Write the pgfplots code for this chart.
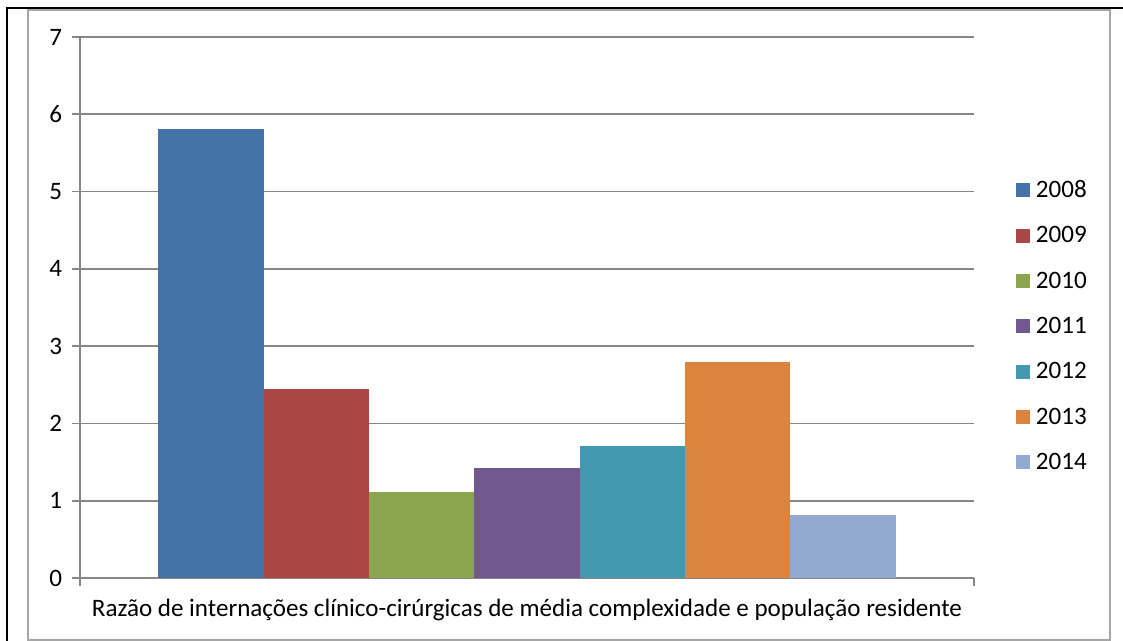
\documentclass[border=0pt]{standalone}
\usepackage{pgfplots}
\pgfplotsset{compat=1.18}
\usepackage{fontspec}
\setmainfont{Carlito}

\definecolor{c2008}{HTML}{4572A7}
\definecolor{c2009}{HTML}{AA4643}
\definecolor{c2010}{HTML}{89A54E}
\definecolor{c2011}{HTML}{71588F}
\definecolor{c2012}{HTML}{4198AF}
\definecolor{c2013}{HTML}{DB843D}
\definecolor{c2014}{HTML}{93A9CF}
\definecolor{gridgray}{HTML}{868686}
\definecolor{framegray}{HTML}{A6A6A6}

\begin{document}
\begin{tikzpicture}
% page size and frames (1px = 0.75pt)
\path[use as bounding box] (0pt,0pt) rectangle (842.25pt,480.75pt);
\draw[framegray, line width=1.5pt] (21pt,0.75pt) rectangle (832.5pt,473.25pt);
\draw[black, line width=1.5pt] (5.25pt,0pt) -- (5.25pt,474.75pt) -- (842.25pt,474.75pt);

\begin{axis}[
  at={(60pt,47.25pt)}, anchor=south west,
  scale only axis,
  width=670.5pt, height=405.75pt,
  ybar=0pt, bar width=79pt,
  xmin=-0.5, xmax=0.5,
  ymin=0, ymax=7,
  ytick={0,1,2,3,4,5,6,7},
  xtick={-0.5,0.5}, xticklabels={},
  axis lines*=left,
  axis line style={gridgray, line width=1.2pt},
  ymajorgrids=true,
  grid style={gridgray, line width=1.2pt},
  tick style={gridgray, line width=1.2pt},
  tick align=outside,
  major tick length=6pt,
  /pgf/number format/assume math mode=true,
  ticklabel style={font=\fontsize{18.8pt}{22pt}\selectfont},
  yticklabel style={xshift=-4pt},
  xlabel={Razão de internações clínico-cirúrgicas de média complexidade e população residente},
  xlabel style={at={(axis description cs:0.5,0)}, anchor=base, yshift=-29.25pt,
    font=\fontsize{18.8pt}{22pt}\selectfont},
  every axis plot post/.append style={
    legend image code/.code={\fill[##1] (0pt,-5.25pt) rectangle (10.5pt,5.25pt);}},
  legend style={at={(1.0466,0.74)}, anchor=north west, draw=none, fill=none,
    inner sep=0pt, row sep=16.25pt, column sep=2.5pt,
    font=\fontsize{18.8pt}{22pt}\selectfont},
  legend cell align=left,
]
\addplot[fill=c2008, draw=none] coordinates {(0,5.81)};
\addlegendentry{2008}
\addplot[fill=c2009, draw=none] coordinates {(0,2.45)};
\addlegendentry{2009}
\addplot[fill=c2010, draw=none] coordinates {(0,1.11)};
\addlegendentry{2010}
\addplot[fill=c2011, draw=none] coordinates {(0,1.42)};
\addlegendentry{2011}
\addplot[fill=c2012, draw=none] coordinates {(0,1.71)};
\addlegendentry{2012}
\addplot[fill=c2013, draw=none] coordinates {(0,2.80)};
\addlegendentry{2013}
\addplot[fill=c2014, draw=none] coordinates {(0,0.81)};
\addlegendentry{2014}
\end{axis}
\end{tikzpicture}
\end{document}
